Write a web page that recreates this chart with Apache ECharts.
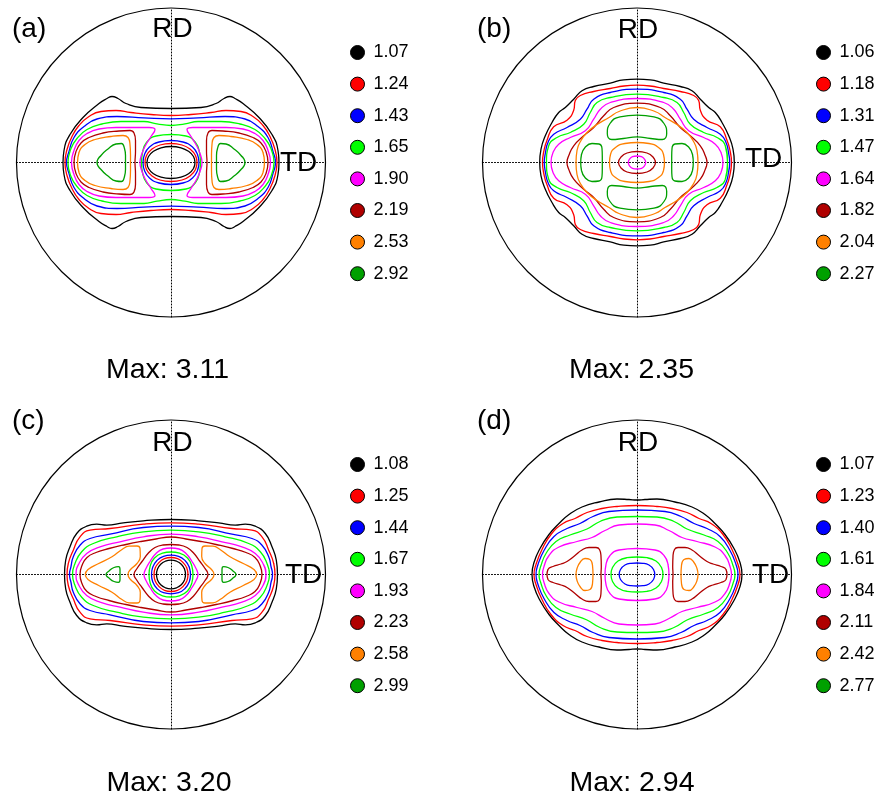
<!DOCTYPE html>
<html>
<head>
<meta charset="utf-8">
<script src="https://cdn.jsdelivr.net/npm/echarts@6/dist/echarts.min.js"></script>
<style>
  html, body { margin: 0; padding: 0; background: #fff; }
  #chart { width: 879px; height: 801px; }
</style>
</head>
<body>
<div id="chart"></div>
<script>
// contour colours, lowest level first
const levelColors = ['#000000', '#ff0000', '#0000ff', '#00ff00', '#ff00ff', '#b00000', '#ff8000', '#00a000']

// level values shown in each legend
const levelsA = ['1.07', '1.24', '1.43', '1.65', '1.90', '2.19', '2.53', '2.92']
const levelsB = ['1.06', '1.18', '1.31', '1.47', '1.64', '1.82', '2.04', '2.27']
const levelsC = ['1.08', '1.25', '1.44', '1.67', '1.93', '2.23', '2.58', '2.99']
const levelsD = ['1.07', '1.23', '1.40', '1.61', '1.84', '2.11', '2.42', '2.77']
const maxValues = ['3.11', '2.35', '3.20', '2.94']

// loops around the pole: [level, first quadrant from TD axis to RD axis]
const ringsA = [
  [0, [[108, 0], [107, 12], [101, 28], [88, 45], [72, 59], [64, 64], [59, 66], [53, 64], [45, 59], [30, 55], [0, 54]]],
  [1, [[106, 0], [104, 13], [99, 26], [92, 37], [82, 46], [70, 51], [55, 52], [40, 50], [20, 48], [0, 47]]],
  [2, [[104.5, 0], [102, 11], [97, 25], [87, 36], [74, 43.5], [54, 46], [27, 44.7], [0, 43.7]]],
  [3, [[103, 0], [100, 14], [94, 24], [84, 33], [69, 38.5], [50, 41], [27, 41], [14, 38.7], [0, 37]]],
  [0, [[24, 0], [22.5, 6], [17.5, 11.2], [10, 14.7], [0, 16]]],
  [1, [[26, 0], [24.5, 7], [19.5, 13], [11, 17.5], [0, 19]]],
  [2, [[28, 0], [26.5, 8], [21.5, 15.5], [12, 20.5], [0, 22]]],
  [3, [[29.5, 0], [28.5, 10], [24.5, 20], [15, 26.5], [0, 28]]]
]
// right-hand lobes: [level, upper half from outer TD point to inner TD point], mirrored to the left
const lobesA = [
  [4, [[99.5, 0], [97, 12], [92, 22], [84, 29], [72, 33.5], [55, 35], [35, 35], [22, 35], [16, 33], [20, 26], [25, 18], [29, 9], [31, 0]]],
  [5, [[97, 0], [95, 11], [90, 19.5], [82, 25], [68, 29.5], [52, 31.5], [41, 32], [37, 29.5], [35.5, 22], [35.5, 11], [36, 0]]],
  [6, [[93.5, 0], [92, 10], [86, 18], [76, 23], [60, 26], [48, 27], [43, 25], [41, 18], [40.5, 8], [40.5, 0]]],
  [7, [[74, 0], [70, 7], [63, 13.5], [55, 18.5], [49.5, 19], [46.5, 14], [45.5, 7], [45.5, 0]]]
]
const vlobesA = []

const ringsB = [
  [0, [[97.3, 0], [96, 13.3], [91.7, 26.7], [85, 40], [78.3, 50], [71.7, 55], [63.3, 63.3], [55, 71.7], [43.3, 76], [26.7, 79.3], [13.3, 82.7], [0, 83.3]]],
  [1, [[94.5, 0], [93, 12], [90, 22.3], [83.3, 35.7], [70, 42.3], [63.3, 52.3], [61.7, 62], [56.7, 67], [43.3, 71], [26.7, 74], [13, 76.5], [0, 77.3]]],
  [2, [[92.7, 0], [91.5, 10], [89, 20], [83.3, 28.3], [70, 35], [56.7, 43.3], [50, 53.3], [43.3, 63.3], [26.7, 70], [0, 73.3]]],
  [3, [[90.5, 0], [88.3, 16.7], [80, 25], [66.7, 30], [53.3, 38.3], [46.7, 50], [40, 60], [26.7, 65], [0, 68.3]]],
  [4, [[86, 0], [84, 10], [78.3, 18.3], [66.7, 25], [51.7, 31.7], [43.3, 43.3], [36.7, 53.3], [26.7, 60], [0, 64]]],
  [5, [[70, 0], [68.3, 6.7], [63.3, 16.7], [53.3, 26.7], [43.3, 35], [33.3, 46.7], [23.3, 55], [0, 59.3]]],
  [6, [[61, 0], [60, 12], [56, 22], [50, 30], [40, 38], [28, 45], [18, 51], [0, 55]]],
  [6, [[27.5, 0], [26.5, 8], [21.5, 15], [12, 19], [0, 20]]],
  [5, [[18.5, 0], [16, 5.5], [10, 9.5], [0, 11]]],
  [4, [[8.7, 0], [7.5, 3.3], [4.5, 5.8], [0, 6.5]]]
]
const lobesB = [
  [7, [[56.3, 0], [55.5, 8], [52, 15], [45, 19], [38, 18.5], [35, 14], [34.7, 6], [34.7, 0]]]
]
// upper lobes: [level, right half from top of RD axis round to bottom], mirrored to the left and below
const vlobesB = [
  [7, [[0, 47.3], [17, 45.7], [27, 39], [29.7, 29], [25.3, 23], [13.7, 24], [0, 25.7]]]
]

const ringsC = [
  [0, [[106.5, 0], [105.3, 14.3], [101, 27.7], [94.3, 41], [84.3, 48.3], [74.3, 50.3], [64.3, 49.3], [47.7, 51.7], [27.7, 53.7], [0, 55]]],
  [1, [[104, 0], [102.7, 11], [97.7, 24.3], [91, 37.7], [81, 44.3], [61, 46], [27.7, 50.3], [0, 51.7]]],
  [2, [[101.5, 0], [100, 8], [97.7, 17.7], [91, 29.3], [81, 36], [61, 40.3], [27.7, 47], [0, 48.3]]],
  [3, [[98.5, 0], [96, 11], [89.3, 22.7], [77.7, 31], [54.3, 37.7], [27.7, 42.7], [0, 44.3]]],
  [4, [[95, 0], [92, 11], [84.3, 21], [71, 27.7], [51, 32.7], [27.7, 37.7], [0, 40.3]]],
  [5, [[91, 0], [89, 9], [84, 17], [75, 22], [62, 26], [45, 30], [30, 33], [15, 35.5], [0, 37.5]]],
  [0, [[14.5, 0], [13.5, 5.5], [10.3, 10.3], [5.5, 13.3], [0, 14.3]]],
  [1, [[17, 0], [15.8, 6.5], [12, 12], [6.5, 15.8], [0, 17]]],
  [2, [[19.5, 0], [18.2, 7.5], [14, 14], [7.5, 18.2], [0, 19.3]]],
  [3, [[22, 0], [20.8, 8.5], [16.5, 16.5], [8.5, 21.3], [0, 22.5]]],
  [4, [[27, 0], [25, 6], [21, 13], [15, 21], [8, 25.5], [0, 26.5]]],
  [5, [[37, 0], [34, 6], [29, 13], [23, 21], [16, 27], [8, 29.5], [0, 30]]]
]
const lobesC = [
  [6, [[85.7, 0], [83, 5], [72.3, 11], [59, 17.7], [49, 25], [42, 28.3], [34, 28.5], [31, 26], [30.7, 18], [34, 11], [40.5, 5], [43, 0]]],
  [7, [[65, 0], [62, 3.5], [57, 7], [52.5, 7.8], [51, 5], [51, 0]]]
]
const vlobesC = []

const ringsD = [
  [0, [[105, 0], [103, 12], [97, 26], [88, 40], [78, 51], [68, 60], [55, 67.5], [38, 72.5], [20, 75.5], [8, 75], [0, 74.5]]],
  [1, [[103, 0], [101, 10], [95, 25], [86, 40], [74, 51], [62, 56], [50, 62], [35, 66], [20, 68], [0, 69]]],
  [2, [[101, 0], [99, 10], [93, 24], [83, 38], [70, 46], [57, 51], [44, 58], [28, 63], [0, 64.5]]],
  [3, [[98, 0], [96, 9], [91, 21], [81, 33], [67, 39.5], [50, 45.5], [37, 53], [20, 57.5], [0, 58]]],
  [4, [[94.5, 0], [93, 8], [88, 19], [78, 27.5], [60, 33], [45, 37], [32, 44], [18, 49.5], [0, 50.5]]],
  [4, [[32, 0], [31, 10], [27, 19], [18, 24.5], [0, 26]]],
  [3, [[26, 0], [24.5, 7], [19, 13.5], [10, 16.8], [0, 17.5]]],
  [2, [[17.8, 0], [16.5, 5], [12, 9.5], [6, 11.2], [0, 11.5]]]
]
const lobesD = [
  [5, [[90, 0], [89, 5], [84, 8], [76, 10.5], [70, 13], [62, 19], [55, 24.5], [48, 27], [41, 27], [37.5, 25], [36, 18], [35.7, 8], [36, 0]]],
  [6, [[61, 0], [60, 6], [57, 12], [52, 16], [47, 15], [44.5, 9], [44, 0]]]
]
const vlobesD = []

// layout of the four pole figures (pixels)
const R = 154.5
const panels = [
  { tag: '(a)', cx: 171, cy: 162.5, levels: levelsA, rings: ringsA, lobes: lobesA, vlobes: vlobesA,
    tagPos: [12, 29], rdPos: [172.5, 29], tdPos: [280, 163], maxPos: [167.5, 370] },
  { tag: '(b)', cx: 637, cy: 162.5, levels: levelsB, rings: ringsB, lobes: lobesB, vlobes: vlobesB,
    tagPos: [477, 29.5], rdPos: [638, 30], tdPos: [745, 159], maxPos: [631.5, 370.5] },
  { tag: '(c)', cx: 171, cy: 574.5, levels: levelsC, rings: ringsC, lobes: lobesC, vlobes: vlobesC,
    tagPos: [12, 421.5], rdPos: [172.5, 443.5], tdPos: [285, 575], maxPos: [169, 783.5] },
  { tag: '(d)', cx: 637, cy: 574.5, levels: levelsD, rings: ringsD, lobes: lobesD, vlobes: vlobesD,
    tagPos: [477, 421.5], rdPos: [638, 443.5], tdPos: [752, 575], maxPos: [632, 783.5] }
]

const FONT = "'Liberation Sans', Arial, sans-serif"

// whole loop from one quadrant (pole figure is symmetric about RD and TD)
const ringLoop = (q) => {
  const pts = q.slice()
  for (let k = q.length - 2; k >= 0; k--) pts.push([-q[k][0], q[k][1]])
  for (let k = 1; k < q.length; k++) pts.push([-q[k][0], -q[k][1]])
  for (let k = q.length - 2; k >= 0; k--) pts.push([q[k][0], -q[k][1]])
  return pts
}
// lobe on the TD axis from its upper half, sx = 1 right / -1 left
const lobeLoop = (h, sx) => {
  const pts = h.map(p => [sx * p[0], p[1]])
  for (let k = h.length - 2; k >= 0; k--) pts.push([sx * h[k][0], -h[k][1]])
  return pts
}
// lobe on the RD axis from its right half, sy = 1 top / -1 bottom
const vlobeLoop = (h, sy) => {
  const pts = h.map(p => [p[0], sy * p[1]])
  for (let k = h.length - 2; k >= 0; k--) pts.push([-h[k][0], sy * h[k][1]])
  return pts
}
// overlap one point at each end so the smoothed loop closes without a kink
const closeLoop = (pts) => [pts[pts.length - 2]].concat(pts, [pts[1]])

const grids = [], xAxes = [], yAxes = [], polars = [], angleAxes = [], radiusAxes = []
const legends = [], series = [], graphics = []

const dotted = { color: '#000', width: 1, type: [1, 2] }

panels.forEach((p, i) => {
  grids.push({ left: p.cx - R, top: p.cy - R, width: 2 * R, height: 2 * R })
  const axisBase = {
    gridIndex: i, type: 'value', min: -R, max: R,
    axisLine: { show: true, onZero: true, lineStyle: dotted },
    axisTick: { show: false }, axisLabel: { show: false }, splitLine: { show: false }
  }
  xAxes.push(Object.assign({}, axisBase))
  yAxes.push(Object.assign({}, axisBase))

  // outer circle of the pole figure
  polars.push({ center: [p.cx, p.cy], radius: R })
  angleAxes.push({
    polarIndex: i, type: 'value', min: 0, max: 360,
    axisLine: { show: true, lineStyle: { color: '#000', width: 1.2 } },
    axisTick: { show: false }, axisLabel: { show: false }, splitLine: { show: false }
  })
  radiusAxes.push({ polarIndex: i, type: 'value', min: 0, max: 1, show: false })

  const names = p.levels.map(l => p.tag + ' ' + l)
  const addLine = (lvl, data) => {
    const c = levelColors[lvl]
    series.push({
      type: 'line', name: names[lvl], xAxisIndex: i, yAxisIndex: i,
      data: data, smooth: 0.5, symbol: 'none', silent: true,
      color: c, itemStyle: { color: c }, lineStyle: { color: c, width: 1.3 }
    })
  }
  // one empty series per level so every level shows in the legend
  p.levels.forEach((l, lvl) => addLine(lvl, []))
  p.rings.forEach(([lvl, q]) => addLine(lvl, closeLoop(ringLoop(q))))
  p.lobes.forEach(([lvl, h]) => {
    addLine(lvl, closeLoop(lobeLoop(h, 1)))
    addLine(lvl, closeLoop(lobeLoop(h, -1)))
  })
  p.vlobes.forEach(([lvl, h]) => {
    addLine(lvl, closeLoop(vlobeLoop(h, 1)))
    addLine(lvl, closeLoop(vlobeLoop(h, -1)))
  })

  legends.push({
    data: names, orient: 'vertical', left: p.cx + 179, top: p.cy - 119,
    padding: 0, itemGap: 13.6, itemWidth: 14, itemHeight: 14,
    icon: 'circle', selectedMode: false,
    itemStyle: { borderColor: '#000', borderWidth: 1 },
    formatter: (n) => n.split(' ')[1],
    textStyle: { fontFamily: FONT, fontSize: 18, color: '#000', lineHeight: 14, padding: [4, 0, 0, 4] }
  })

  const txt = (s, pos, size, align) => graphics.push({
    type: 'text', x: pos[0], y: pos[1], silent: true,
    style: { text: s, fontFamily: FONT, fontSize: size, fill: '#000',
      align: align, textAlign: align, verticalAlign: 'middle', textVerticalAlign: 'middle' }
  })
  txt(p.tag, p.tagPos, 28, 'left')
  txt('RD', p.rdPos, 28, 'center')
  txt('TD', p.tdPos, 28, 'left')
  txt('Max: ' + maxValues[i], p.maxPos, 28.5, 'center')
})

const chart = echarts.init(document.getElementById('chart'), null, { renderer: 'canvas' })
chart.setOption({
  animation: false,
  backgroundColor: '#fff',
  grid: grids, xAxis: xAxes, yAxis: yAxes,
  polar: polars, angleAxis: angleAxes, radiusAxis: radiusAxes,
  legend: legends, series: series, graphic: graphics
})
</script>
</body>
</html>
